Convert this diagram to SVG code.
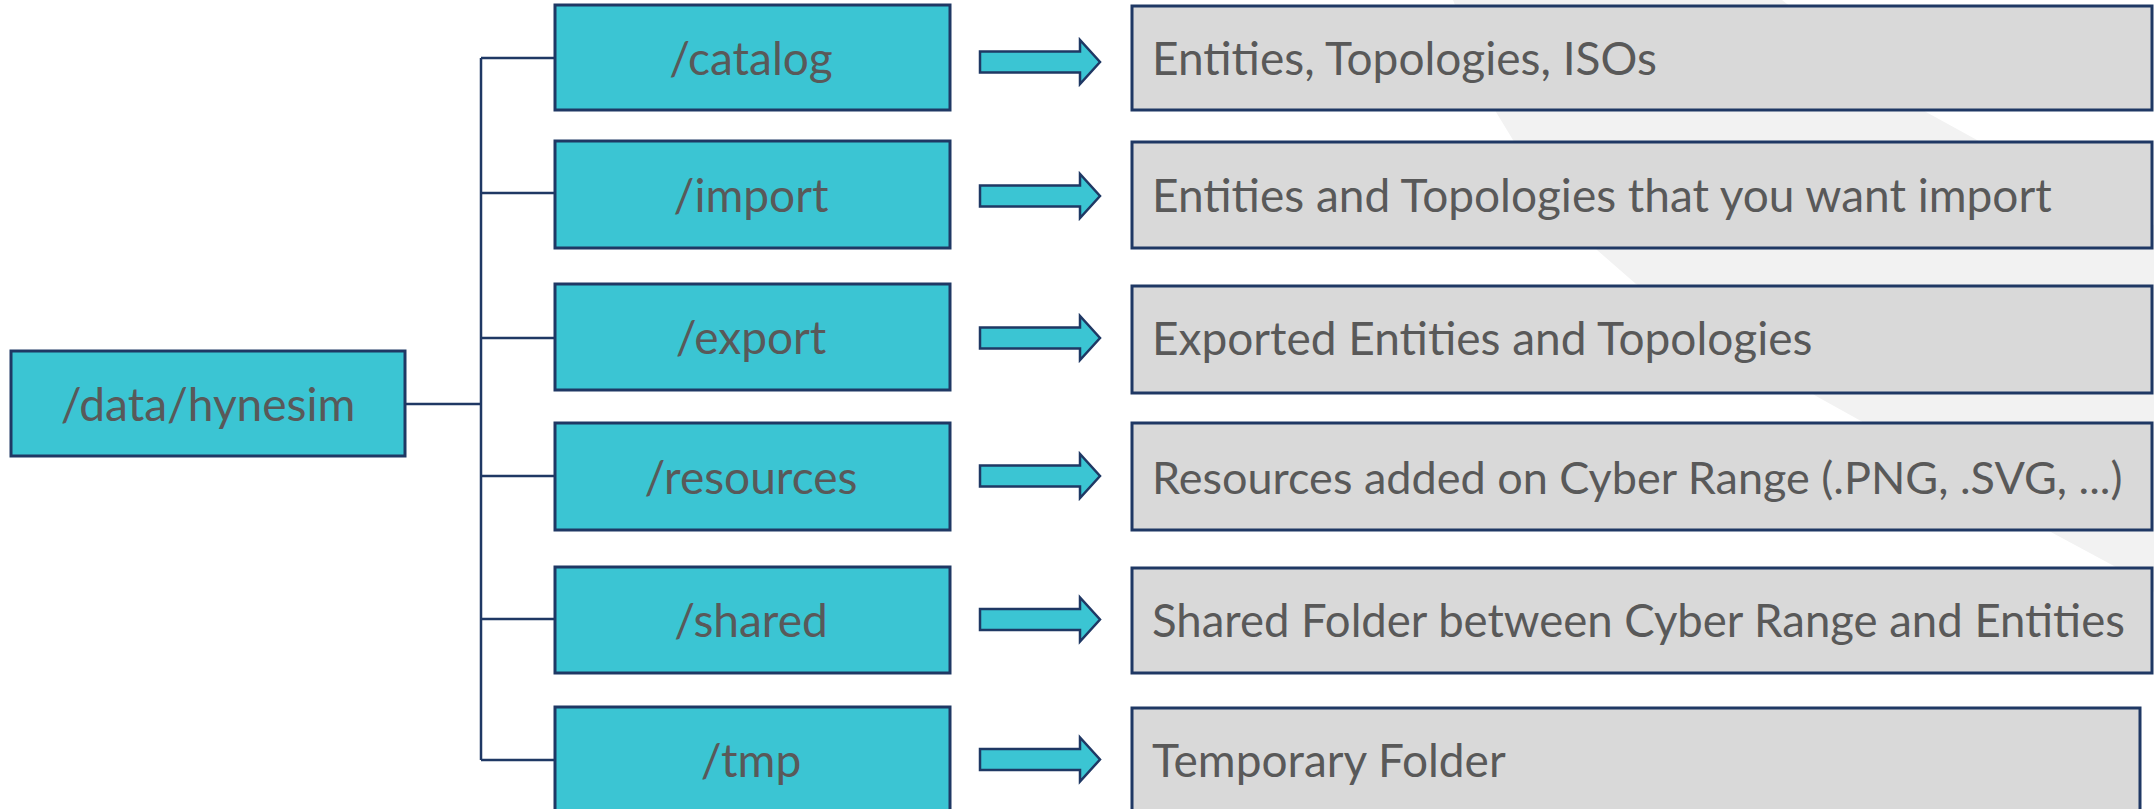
<svg xmlns="http://www.w3.org/2000/svg" width="2154" height="809" viewBox="0 0 2154 809">
<defs>
<style>
.bg{fill:#F2F2F2;stroke:none}
.dir{fill:#3BC5D3;stroke:#1F3864;stroke-width:3}
.desc{fill:#D9D9D9;stroke:#1F3864;stroke-width:3}
.arr{fill:#3BC5D3;stroke:#1F3864;stroke-width:2.5;stroke-linejoin:miter}
.conn{fill:none;stroke:#1F3864;stroke-width:2.5}
.t{font-family:Lato,"Noto Sans","Liberation Sans",sans-serif;font-size:46px;fill:#595959}
.c{text-anchor:middle}
</style>
</defs>
<rect width="2154" height="809" fill="#FFFFFF"/>
<path class="bg" d="M1453,0 L1782,0 L1926,112 L1977,140 L2060,180 L2154,225 L2154,592 L2114,566 L2049,531 L1861,421 L1816,396 L1700,320 L1636,284 L1597,250 L1513,140 L1496,112 Z"/>
<g id="connectors">
<line class="conn" x1="481" y1="58" x2="481" y2="760"/>
<line class="conn" x1="481" y1="58" x2="555" y2="58"/>
<line class="conn" x1="481" y1="193" x2="555" y2="193"/>
<line class="conn" x1="481" y1="338" x2="555" y2="338"/>
<line class="conn" x1="481" y1="476" x2="555" y2="476"/>
<line class="conn" x1="481" y1="619" x2="555" y2="619"/>
<line class="conn" x1="481" y1="760" x2="555" y2="760"/>
<line class="conn" x1="405" y1="404" x2="481" y2="404" stroke-width="5.5"/>
<polygon class="arr" points="980,51.5 1080,51.5 1080,40 1100,62 1080,84 1080,72.5 980,72.5"/>
<polygon class="arr" points="980,185.5 1080,185.5 1080,174 1100,196 1080,218 1080,206.5 980,206.5"/>
<polygon class="arr" points="980,327.5 1080,327.5 1080,316 1100,338 1080,360 1080,348.5 980,348.5"/>
<polygon class="arr" points="980,465.5 1080,465.5 1080,454 1100,476 1080,498 1080,486.5 980,486.5"/>
<polygon class="arr" points="980,609 1080,609 1080,597.5 1100,619.5 1080,641.5 1080,630 980,630"/>
<polygon class="arr" points="980,749 1080,749 1080,737.5 1100,759.5 1080,781.5 1080,770 980,770"/>
</g>
<g id="root">
<rect class="dir" x="11" y="351" width="394" height="105"/>
<text class="t c" x="208" y="421">/data/hynesim</text>
</g>
<g id="catalog">
<rect class="dir" x="555" y="5" width="395" height="105"/>
<text class="t c" x="751" y="75">/catalog</text>
</g>
<g id="import">
<rect class="dir" x="555" y="141" width="395" height="107"/>
<text class="t c" x="751" y="212">/import</text>
</g>
<g id="export">
<rect class="dir" x="555" y="284" width="395" height="106"/>
<text class="t c" x="751" y="354">/export</text>
</g>
<g id="resources">
<rect class="dir" x="555" y="423" width="395" height="107"/>
<text class="t c" x="751" y="494">/resources</text>
</g>
<g id="shared">
<rect class="dir" x="555" y="567" width="395" height="106"/>
<text class="t c" x="751" y="637">/shared</text>
</g>
<g id="tmp">
<rect class="dir" x="555" y="707" width="395" height="106"/>
<text class="t c" x="751" y="777">/tmp</text>
</g>
<g id="desc-catalog">
<rect class="desc" x="1132" y="6" width="1020" height="104"/>
<text class="t" x="1152" y="75">Entities, Topologies, ISOs</text>
</g>
<g id="desc-import">
<rect class="desc" x="1132" y="142" width="1020" height="106"/>
<text class="t" x="1152" y="212">Entities and Topologies that you want import</text>
</g>
<g id="desc-export">
<rect class="desc" x="1132" y="286" width="1020" height="107"/>
<text class="t" x="1152" y="355">Exported Entities and Topologies</text>
</g>
<g id="desc-resources">
<rect class="desc" x="1132" y="423" width="1020" height="107"/>
<text class="t" x="1152" y="494" style="font-size:45px">Resources added on Cyber Range (.PNG, .SVG, ...)</text>
</g>
<g id="desc-shared">
<rect class="desc" x="1132" y="568" width="1020" height="105"/>
<text class="t" x="1152" y="637" style="font-size:45.5px">Shared Folder between Cyber Range and Entities</text>
</g>
<g id="desc-tmp">
<rect class="desc" x="1132" y="708" width="1008" height="106"/>
<text class="t" x="1152" y="777">Temporary Folder</text>
</g>
</svg>
